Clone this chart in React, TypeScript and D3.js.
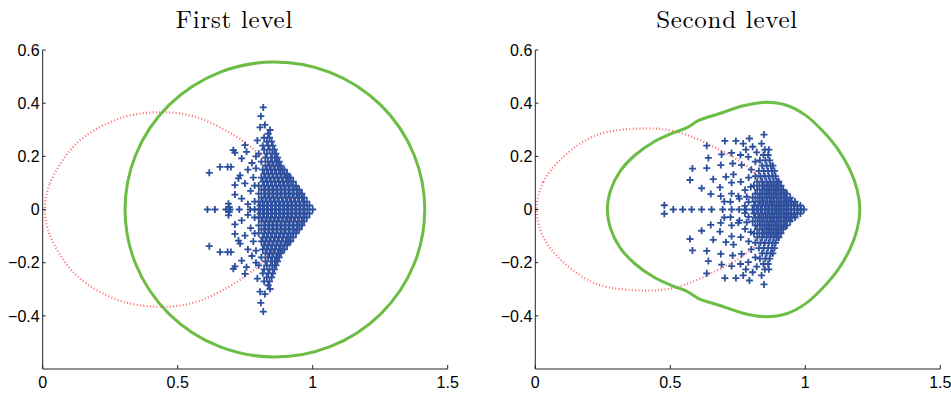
import React, { useEffect, useRef } from 'react';
import * as d3 from 'd3';

const titles = ['First level', 'Second level'];
const xTicks = [0, 0.5, 1, 1.5];
const yTicks = [-0.4, -0.2, 0, 0.2, 0.4, 0.6];

// first level boundary is a circle: centre on the real axis, radius
const firstGreenCircle = { cx: 0.86, r: 0.555 };

// upper halves (y >= 0) of the closed curves, read left to right
const secondGreen: [number, number][] = [
  [0.267, 0], [0.28, 0.075], [0.315, 0.145], [0.37, 0.205], [0.44, 0.255], [0.51, 0.288],
  [0.56, 0.307], [0.605, 0.335], [0.68, 0.36], [0.77, 0.39], [0.851, 0.403], [0.93, 0.392],
  [1.0, 0.355], [1.06, 0.3], [1.12, 0.228], [1.165, 0.15], [1.192, 0.075], [1.202, 0],
];
const firstRed: [number, number][] = [
  [0.008, 0], [0.027, 0.098], [0.126, 0.249], [0.286, 0.343], [0.44, 0.366], [0.564, 0.349],
  [0.687, 0.292], [0.786, 0.223], [0.848, 0.16], [0.895, 0.08], [0.912, 0],
];
const secondRed: [number, number][] = [
  [0.005, 0], [0.03, 0.104], [0.104, 0.198], [0.227, 0.28], [0.4, 0.305], [0.524, 0.292],
  [0.672, 0.23], [0.795, 0.154], [0.86, 0.075], [0.88, 0],
];

// eigenvalues, upper half only (conjugates are mirrored below the axis)
const firstSparse: [number, number][] = [
  [0.817, 0.384], [0.808, 0.351], [0.805, 0.309], [0.823, 0.318], [0.842, 0.299], [0.706, 0.223],
  [0.712, 0.214], [0.749, 0.242], [0.755, 0.217], [0.737, 0.192], [0.617, 0.138], [0.657, 0.16],
  [0.685, 0.16], [0.697, 0.16], [0.725, 0.117], [0.712, 0.092], [0.749, 0.098], [0.712, 0.056],
  [0.731, 0.128], [0.737, 0.041], [0.688, 0.022], [0.691, 0.009], [0.76, 0.15], [0.775, 0.175],
  [0.78, 0.12], [0.77, 0.07], [0.785, 0.03], [0.76, 0.02], [0.79, 0.2], [0.795, 0.26],
  [0.785, 0.09], [0.79, 0.155],
  [0.61, 0], [0.638, 0], [0.679, 0], [0.694, 0], [0.728, 0], [0.768, 0], [0.785, 0],
];
const firstDense: [number, number[]][] = [
  [0, [0.8, 0.815, 0.83, 0.845, 0.86, 0.875, 0.89, 0.905, 0.92, 0.935, 0.95, 0.965, 0.98, 1.0]],
  [0.015, [0.805, 0.82, 0.835, 0.85, 0.865, 0.88, 0.895, 0.91, 0.925, 0.94, 0.955, 0.97, 0.988]],
  [0.03, [0.8, 0.815, 0.83, 0.845, 0.86, 0.875, 0.89, 0.905, 0.92, 0.935, 0.95, 0.965, 0.978]],
  [0.045, [0.81, 0.825, 0.84, 0.855, 0.87, 0.885, 0.9, 0.915, 0.93, 0.945, 0.96, 0.968]],
  [0.06, [0.8, 0.82, 0.835, 0.85, 0.865, 0.88, 0.895, 0.91, 0.925, 0.94, 0.952, 0.96]],
  [0.075, [0.81, 0.825, 0.84, 0.855, 0.87, 0.885, 0.9, 0.915, 0.93, 0.942, 0.95]],
  [0.09, [0.8, 0.82, 0.835, 0.85, 0.865, 0.88, 0.895, 0.91, 0.925, 0.938]],
  [0.105, [0.815, 0.83, 0.845, 0.86, 0.875, 0.89, 0.905, 0.918, 0.928]],
  [0.12, [0.81, 0.825, 0.84, 0.855, 0.87, 0.885, 0.9, 0.912, 0.918]],
  [0.135, [0.82, 0.835, 0.85, 0.865, 0.88, 0.895, 0.905]],
  [0.15, [0.815, 0.83, 0.845, 0.86, 0.875, 0.888, 0.895]],
  [0.165, [0.825, 0.84, 0.855, 0.87, 0.882]],
  [0.18, [0.81, 0.835, 0.85, 0.865, 0.876]],
  [0.195, [0.825, 0.845, 0.86, 0.87]],
  [0.21, [0.8, 0.83, 0.85, 0.864]],
  [0.225, [0.82, 0.84, 0.858]],
  [0.24, [0.815, 0.835, 0.852]],
  [0.255, [0.83, 0.848]],
  [0.27, [0.82, 0.84]],
  [0.285, [0.835]],
];
const secondSparse: [number, number][] = [
  [0.478, 0.016], [0.847, 0.282], [0.702, 0.258], [0.743, 0.258], [0.77, 0.248], [0.793, 0.267],
  [0.805, 0.236], [0.838, 0.248], [0.635, 0.24], [0.69, 0.207], [0.727, 0.213], [0.76, 0.205],
  [0.789, 0.198], [0.641, 0.194], [0.687, 0.167], [0.731, 0.173], [0.764, 0.167], [0.582, 0.154],
  [0.635, 0.156], [0.573, 0.111], [0.659, 0.114], [0.706, 0.123], [0.734, 0.132], [0.761, 0.104],
  [0.616, 0.08], [0.684, 0.083], [0.727, 0.101], [0.65, 0.058], [0.687, 0.05], [0.727, 0.06],
  [0.752, 0.05], [0.756, 0.041], [0.723, 0.029], [0.777, 0.073], [0.783, 0.048], [0.798, 0.085],
  [0.7, 0.03], [0.79, 0.12], [0.8, 0.15], [0.815, 0.18], [0.78, 0.225], [0.82, 0.215],
  [0.79, 0.028], [0.776, 0.014],
  [0.511, 0], [0.546, 0], [0.579, 0], [0.616, 0], [0.653, 0], [0.694, 0], [0.727, 0], [0.755, 0], [0.78, 0],
];
const secondDense: [number, number[]][] = [
  [0, [0.805, 0.82, 0.835, 0.85, 0.862, 0.875, 0.888, 0.9, 0.912, 0.924, 0.936, 0.948, 0.96, 0.972, 0.984, 0.995]],
  [0.015, [0.81, 0.826, 0.84, 0.854, 0.867, 0.88, 0.893, 0.906, 0.919, 0.932, 0.945, 0.958, 0.97, 0.982]],
  [0.03, [0.815, 0.832, 0.846, 0.86, 0.873, 0.886, 0.899, 0.912, 0.925, 0.938, 0.95, 0.962]],
  [0.045, [0.805, 0.824, 0.84, 0.855, 0.868, 0.881, 0.894, 0.907, 0.92, 0.932, 0.944]],
  [0.06, [0.815, 0.832, 0.848, 0.862, 0.875, 0.888, 0.9, 0.912, 0.925, 0.932]],
  [0.075, [0.822, 0.84, 0.855, 0.869, 0.882, 0.895, 0.907, 0.918]],
  [0.09, [0.81, 0.83, 0.847, 0.862, 0.876, 0.889, 0.9, 0.91]],
  [0.105, [0.822, 0.84, 0.856, 0.87, 0.883, 0.895, 0.902]],
  [0.125, [0.815, 0.834, 0.85, 0.865, 0.879, 0.89]],
  [0.145, [0.828, 0.846, 0.862, 0.876, 0.886]],
  [0.165, [0.84, 0.857, 0.872, 0.88]],
  [0.185, [0.832, 0.852, 0.868]],
  [0.205, [0.845, 0.862]],
  [0.225, [0.85, 0.865]],
];

const withConjugates = (pts: [number, number][]) =>
  pts.concat(pts.filter(p => p[1] > 0).map(([x, y]) => [x, -y] as [number, number]));
const rowsToPoints = (rows: [number, number[]][]) =>
  rows.flatMap(([y, xs]) => xs.map(x => [x, y] as [number, number]));
const closeCurve = (half: [number, number][]) =>
  half.concat(half.slice(1, -1).reverse().map(([x, y]) => [x, -y] as [number, number]));

const panels = [
  { title: titles[0], left: 42.7, red: firstRed, green: null, circle: firstGreenCircle,
    points: withConjugates(firstSparse.concat(rowsToPoints(firstDense))) },
  { title: titles[1], left: 535.3, red: secondRed, green: secondGreen, circle: null,
    points: withConjugates(secondSparse.concat(rowsToPoints(secondDense))) },
];

export default function App() {
  const svgRef = useRef<SVGSVGElement>(null);

  useEffect(() => {
    const svg = d3.select(svgRef.current);
    svg.selectAll('*').remove();

    const top = 50;
    const bottom = 369;
    const plotW = 405;

    panels.forEach(p => {
      const x = d3.scaleLinear().domain([0, 1.5]).range([p.left, p.left + plotW]);
      const y = d3.scaleLinear().domain([-0.6, 0.6]).range([bottom, top]);
      const g = svg.append('g');

      const line = d3.line<[number, number]>()
        .x(d => x(d[0]))
        .y(d => y(d[1]))
        .curve(d3.curveCatmullRomClosed.alpha(0.5));

      // red dotted curve
      g.append('path')
        .attr('d', line(closeCurve(p.red)))
        .attr('fill', 'none')
        .attr('stroke', '#ff5c5c')
        .attr('stroke-width', 2.2)
        .attr('stroke-dasharray', '0.9 2.4');

      // green boundary
      if (p.circle) {
        g.append('ellipse')
          .attr('cx', x(p.circle.cx))
          .attr('cy', y(0))
          .attr('rx', x(p.circle.cx + p.circle.r) - x(p.circle.cx))
          .attr('ry', y(0) - y(p.circle.r))
          .attr('fill', 'none')
          .attr('stroke', '#6cbd45')
          .attr('stroke-width', 3);
      }
      if (p.green) {
        g.append('path')
          .attr('d', line(closeCurve(p.green)))
          .attr('fill', 'none')
          .attr('stroke', '#6cbd45')
          .attr('stroke-width', 3);
      }

      // eigenvalue markers
      g.append('g')
        .selectAll('path')
        .data(p.points)
        .join('path')
        .attr('d', d => `M${x(d[0]) - 3.5},${y(d[1])}h7M${x(d[0])},${y(d[1]) - 3.5}v7`)
        .attr('stroke', '#2d4f9e')
        .attr('stroke-width', 1.8)
        .attr('fill', 'none');

      // axes (left and bottom only, ticks inward)
      const ax = g.append('g').attr('stroke', '#222').attr('stroke-width', 1);
      ax.append('line').attr('x1', x(0)).attr('x2', x(0)).attr('y1', top).attr('y2', bottom);
      ax.append('line').attr('x1', x(0)).attr('x2', x(1.5)).attr('y1', bottom).attr('y2', bottom);
      yTicks.forEach(t => {
        ax.append('line').attr('x1', x(0)).attr('x2', x(0) + 3).attr('y1', y(t)).attr('y2', y(t));
      });
      xTicks.forEach(t => {
        ax.append('line').attr('x1', x(t)).attr('x2', x(t)).attr('y1', bottom).attr('y2', bottom - 4);
      });

      const fmt = d3.format('.1f');
      g.selectAll('text.ylab')
        .data(yTicks)
        .join('text')
        .attr('x', x(0) - 3)
        .attr('y', d => y(d))
        .attr('dy', '0.36em')
        .attr('text-anchor', 'end')
        .attr('font-family', 'Liberation Sans, Arial, sans-serif')
        .attr('font-size', 16)
        .text(d => (d === 0 ? '0' : fmt(d)));

      g.selectAll('text.xlab')
        .data(xTicks)
        .join('text')
        .attr('x', d => x(d))
        .attr('y', bottom + 19)
        .attr('text-anchor', 'middle')
        .attr('font-family', 'Liberation Sans, Arial, sans-serif')
        .attr('font-size', 16)
        .text(d => String(d));

      g.append('text')
        .attr('x', x(0.71))
        .attr('y', 28)
        .attr('text-anchor', 'middle')
        .attr('font-family', 'Latin Modern Roman, Liberation Serif, serif')
        .attr('font-size', 25)
        .attr('letter-spacing', 0.7)
        .text(p.title);
    });
  }, []);

  return (
    <svg ref={svgRef} width={951} height={396}
      style={{ position: 'absolute', left: 0, top: 0, background: '#fff' }} />
  );
}
